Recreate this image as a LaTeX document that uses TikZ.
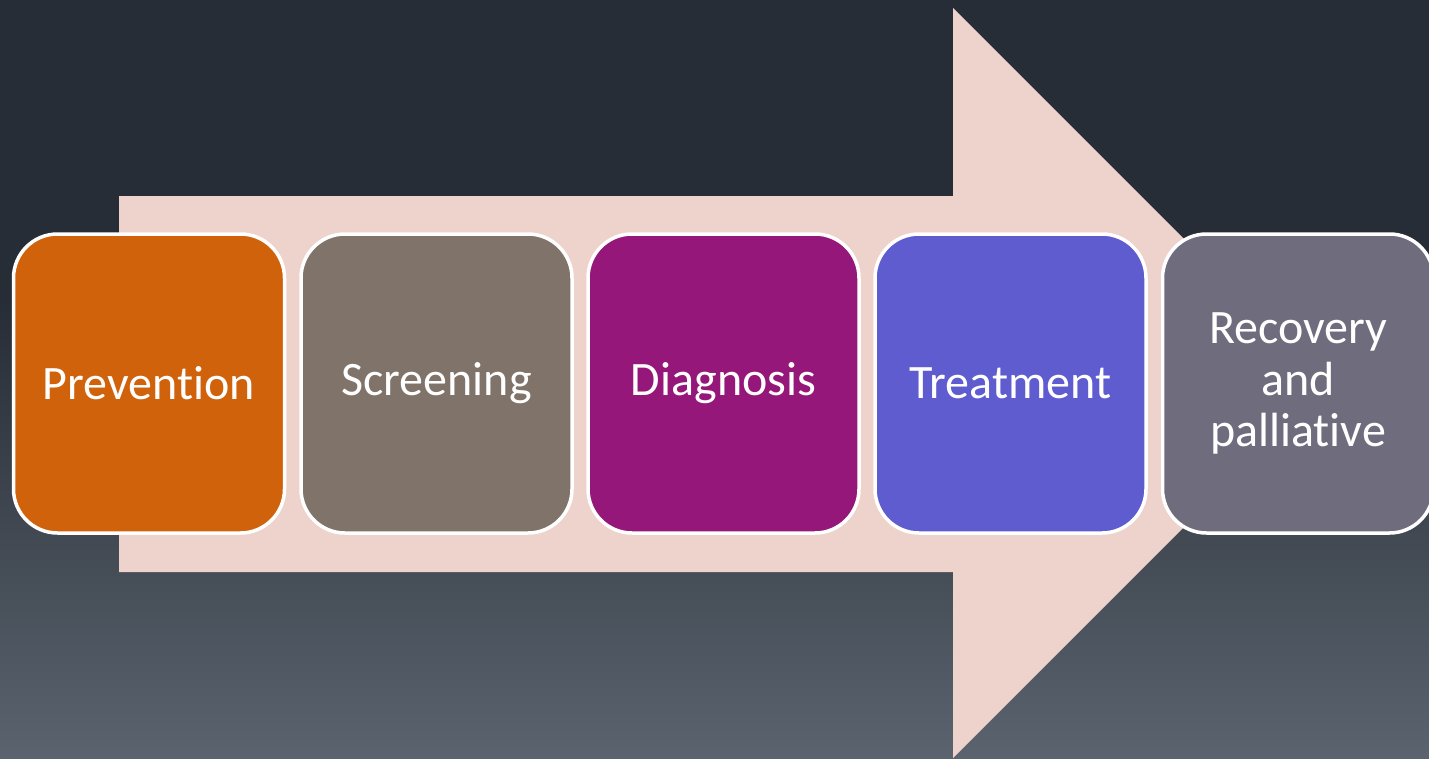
\documentclass[tikz,border=0pt]{standalone}
\usepackage{fontspec}
\setmainfont{Carlito}[Ligatures={NoCommon}]
\definecolor{bgtop}{HTML}{272D36}
\definecolor{bgbot}{HTML}{5A636E}
\definecolor{arrowfill}{HTML}{EDD3CC}
\definecolor{cA}{HTML}{D1620C}
\definecolor{cB}{HTML}{80736A}
\definecolor{cC}{HTML}{95177A}
\definecolor{cD}{HTML}{5F5CD0}
\definecolor{cE}{HTML}{6F6C7D}
\tikzset{
  stagebox/.style={draw=white, line width=3.5pt, rounded corners=44pt,
    minimum width=271pt, minimum height=299pt, inner sep=0pt,
    text=white, align=center, font=\fontsize{48}{51.5}\selectfont}
}
\begin{document}
\begin{tikzpicture}[x=1pt,y=-1pt]
\useasboundingbox (0,0) rectangle (1429,758);
\clip (0,0) rectangle (1429,758);
\fill[bgtop] (0,0) rectangle (1429,300);
\shade[top color=bgtop, bottom color=bgbot] (0,299.5) rectangle (1429,758);
\fill[arrowfill] (119,196) -- (953,196) -- (953,8) -- (1328,383) -- (953,758) -- (953,572) -- (119,572) -- cycle;
\node[stagebox, fill=cA] (prev) at (149,383.5) {Prevention};
\node[stagebox, fill=cB] (scr) at (436.5,383.5) {Screening};
\node[stagebox, fill=cC] (diag) at (723.5,383.5) {Diagnosis};
\node[stagebox, fill=cD] (treat) at (1010.5,383.5) {Treatment};
\node[stagebox, fill=cE] (rec) at (1298,383.5) {Recovery\\and\\palliative};
\end{tikzpicture}
\end{document}
